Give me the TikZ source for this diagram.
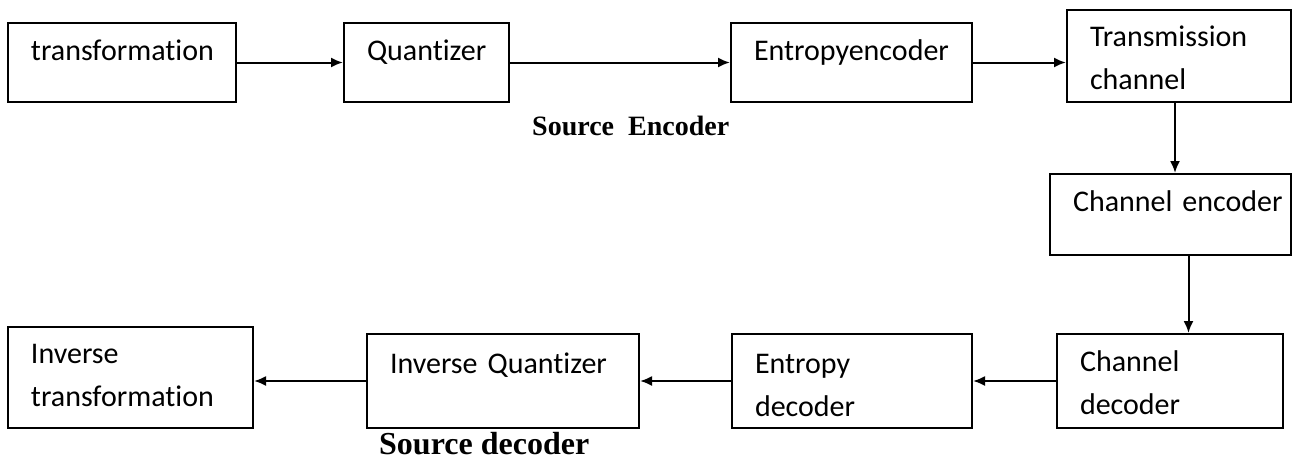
\documentclass[tikz,border=0pt]{standalone}
\usepackage{fontspec}
\setmainfont{Carlito}[Ligatures=NoCommon, HyphenChar=None]
\newfontfamily\capfont{Liberation Serif}
\usetikzlibrary{arrows.meta,positioning}

\begin{document}
\begin{tikzpicture}[x=1pt,y=-1pt,
  blk/.style={draw, line width=2pt, anchor=north west, inner sep=0pt,
    align=left, text height=37pt, font=\fontsize{30}{43}\selectfont,
    execute at begin node={\leftskip=23pt}},
  arr/.style={line width=2pt, -{Latex[length=12pt,width=10pt]}},
  srclbl/.style={anchor=base west, inner sep=0pt}]
\useasboundingbox (0,0) rectangle (1293,459);

% source encoder row
\node[blk, text width=228pt, text depth=42pt] (trans) at (7,22) {transformation};
\node[blk, text width=165pt, text depth=42pt] (quant) at (343,22) {Quantizer};
\node[blk, text width=241pt, text depth=42pt] (entenc) at (730,22) {Entropyencoder};
\node[blk, text width=224pt, text height=36pt, text depth=56pt] (transm) at (1066,9) {Transmission\\channel};

\node[srclbl, font=\capfont\bfseries\fontsize{28}{30}\selectfont] (srcenc) at (532,135) {Source\ \ Encoder};

% channel
\node[blk, text width=241pt, text depth=44pt] (chenc) at (1049,173) {Channel encoder};
\node[blk, text width=226pt, text depth=57pt] (chdec) at (1056,333) {Channel\\decoder};

% source decoder row
\node[blk, text width=240pt, text height=39pt, text depth=55pt] (entdec) at (731,333) {Entropy\\decoder};
\node[blk, text width=272pt, text height=39pt, text depth=55pt] (invq) at (366,333) {Inverse Quantizer};
\node[blk, text width=245pt, text height=36pt, text depth=65pt] (invt) at (7,326) {Inverse\\transformation};

\node[srclbl, font=\capfont\bfseries\fontsize{32}{34}\selectfont] (srcdec) at (379,454) {Source decoder};

\draw[arr] (trans) -- (quant);
\draw[arr] (quant) -- (entenc);
\draw[arr] (entenc) -- (transm.west |- entenc.east);
\draw[arr] ([xshift=-4pt]transm.south) -- ([xshift=-4pt]transm.south |- chenc.north);
\draw[arr] ([xshift=18pt]chenc.south) -- ([xshift=18pt]chenc.south |- chdec.north);
\draw[arr] (chdec.west) -- (chdec.west -| entdec.east);
\draw[arr] (entdec.west) -- (entdec.west -| invq.east);
\draw[arr] (invq.west) -- (invq.west -| invt.east);

\end{tikzpicture}
\end{document}
